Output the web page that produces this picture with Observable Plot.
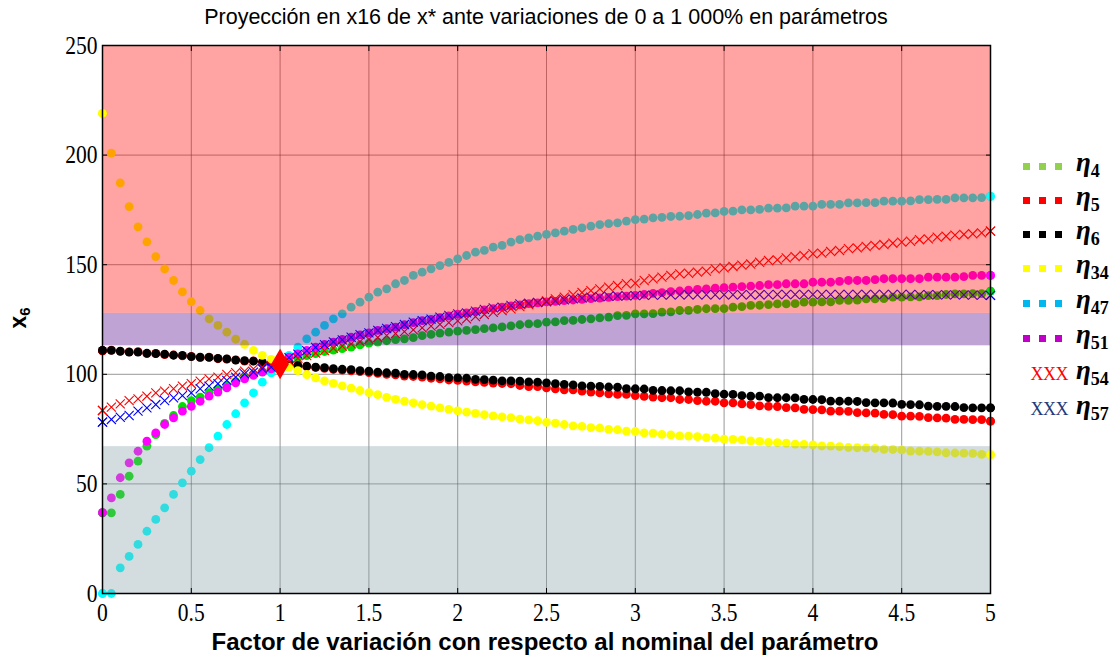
<!DOCTYPE html>
<html><head><meta charset="utf-8">
<script src="https://cdn.jsdelivr.net/npm/d3@7"></script>
<script src="https://cdn.jsdelivr.net/npm/@observablehq/plot@0.6"></script>
<style>
body{margin:0;background:#fff;}
#wrap{position:relative;width:1120px;height:658px;overflow:hidden;font-family:"Liberation Sans",Arial,sans-serif;color:#000;}
#title{position:absolute;left:0;top:5px;width:1092px;text-align:center;font-size:21.5px;line-height:24px;}
#chart{position:absolute;left:0;top:30px;}
#xlabel{position:absolute;left:0;width:1090px;top:629px;text-align:center;font-weight:bold;font-size:24px;line-height:26px;}
#ylabel{position:absolute;left:19px;top:318px;transform:translate(-50%,-50%) rotate(-90deg);font-weight:bold;font-size:23px;white-space:nowrap;}
#ylabel sub{font-size:15px;vertical-align:-4px;}
.lg{position:absolute;left:1018px;height:32px;display:flex;align-items:center;transform:translateY(-50%);}
.mk{width:58px;display:flex;align-items:center;justify-content:flex-end;gap:9px;padding-right:14px;box-sizing:border-box;}
.sq{width:7px;height:7px;display:inline-block;}
.xx{font-family:"Liberation Serif",serif;font-size:18px;letter-spacing:-0.5px;}
.eta{font-family:"Liberation Serif",serif;font-weight:bold;font-style:italic;font-size:27px;line-height:30px;}
.eta sub{font-style:normal;font-size:18px;vertical-align:-6px;}
</style></head>
<body><div id="wrap">
<div id="title">Proyección en x16 de x* ante variaciones de 0 a 1 000% en parámetros</div>
<div id="chart"></div>
<div id="ylabel">x<sub>6</sub></div>
<div id="xlabel">Factor de variación con respecto al nominal del parámetro</div>
<div id="legend"></div>
</div>
<script>
// Factor de variación (x)
const factor = [0,0.05,0.1,0.15,0.2,0.25,0.3,0.35,0.4,0.45,0.5,0.55,0.6,0.65,0.7,0.75,0.8,0.85,0.9,0.95,
1,1.05,1.1,1.15,1.2,1.25,1.3,1.35,1.4,1.45,1.5,1.55,1.6,1.65,1.7,1.75,1.8,1.85,1.9,1.95,
2,2.05,2.1,2.15,2.2,2.25,2.3,2.35,2.4,2.45,2.5,2.55,2.6,2.65,2.7,2.75,2.8,2.85,2.9,2.95,
3,3.05,3.1,3.15,3.2,3.25,3.3,3.35,3.4,3.45,3.5,3.55,3.6,3.65,3.7,3.75,3.8,3.85,3.9,3.95,
4,4.05,4.1,4.15,4.2,4.25,4.3,4.35,4.4,4.45,4.5,4.55,4.6,4.65,4.7,4.75,4.8,4.85,4.9,4.95,5];

const eta4 = [36.8,36.8,45.2,53.5,60.4,67.2,72.5,77.6,81.2,85.3,
88.0,89.6,91.6,93.2,95.0,96.7,98.4,99.9,101.2,102.7,
104.7,106.2,107.4,108.5,109.4,110.4,111.0,111.7,112.4,113.4,
114.2,114.7,115.3,115.8,116.2,116.7,117.6,118.2,118.8,119.2,
119.7,120.0,120.4,120.8,121.2,121.6,122.1,122.6,123.0,123.1,
123.8,123.9,124.5,124.6,125.0,125.3,125.7,126.1,126.8,126.9,
127.6,127.6,127.7,128.4,128.5,129.1,129.2,129.6,129.9,130.0,
130.0,130.6,130.9,131.4,131.5,131.8,132.1,132.1,132.2,132.9,
132.9,133.0,133.0,133.7,133.7,133.8,134.4,134.4,134.5,135.2,
135.2,135.3,135.3,135.9,135.9,136.4,136.7,136.7,136.8,136.8,137.9];

const eta5 = [110.7,111.0,110.4,110.2,110.3,109.4,109.5,109.0,108.8,108.4,
108.2,107.6,107.8,107.1,106.9,106.6,106.0,106.1,105.3,105.0,
104.7,104.3,103.9,103.5,103.1,102.7,102.2,101.9,101.6,101.2,
100.8,100.4,100.0,99.7,99.2,99.0,98.7,98.2,97.9,97.4,
97.2,96.9,96.5,96.3,96.0,95.8,95.7,94.9,94.4,94.4,
93.8,93.4,92.9,92.9,92.3,91.9,91.5,91.1,90.8,90.8,
90.3,89.9,89.6,89.3,89.3,88.5,88.5,88.0,87.7,87.7,
87.0,87.0,86.5,86.2,85.6,85.4,85.3,84.8,84.7,84.0,
83.9,83.8,83.2,83.2,83.1,82.5,82.4,82.3,81.7,81.6,
80.9,80.9,80.8,80.2,80.1,80.0,79.4,79.4,79.3,79.3,78.6];

const eta6 = [110.9,110.9,110.6,110.1,110.1,109.6,109.4,109.2,108.7,108.6,
108.1,107.8,107.7,107.3,107.0,106.5,106.2,106.0,105.5,105.1,
104.7,104.4,104.0,103.7,103.3,103.0,102.6,102.3,102.1,101.7,
101.4,101.0,100.7,100.5,100.0,99.9,99.7,99.2,99.0,98.5,
98.4,98.2,97.7,97.6,97.3,97.0,97.0,96.9,96.5,96.4,
96.1,95.7,95.4,95.2,94.7,94.6,94.5,94.2,94.1,93.5,
93.4,93.3,92.7,92.6,92.5,92.5,92.0,91.9,91.8,91.2,
90.9,90.8,90.3,90.0,90.0,89.4,89.3,89.3,89.2,88.6,
88.5,88.4,87.8,87.7,87.7,87.6,87.1,87.0,87.0,86.9,
86.3,86.2,86.1,85.5,85.4,85.4,85.3,84.8,84.7,84.7,84.7];

const eta34 = [219.0,200.9,187.3,176.5,167.3,160.4,153.7,148.1,142.8,137.6,
133.1,129.1,125.3,122.3,119.2,116.0,113.7,110.9,108.6,106.8,
104.7,103.3,101.7,99.9,98.4,97.0,95.9,94.7,93.7,92.6,
91.6,90.7,89.5,88.6,87.8,87.0,86.2,85.5,84.7,84.0,
83.3,82.7,82.2,81.6,81.0,80.6,80.2,79.5,79.2,78.8,
78.1,77.7,77.1,76.5,76.2,75.7,75.5,74.9,74.7,74.1,
73.9,73.3,73.2,72.6,72.4,71.9,71.8,71.6,71.1,70.9,
70.4,70.3,70.1,69.6,69.4,68.9,68.8,68.6,68.1,68.0,
67.8,67.3,67.2,67.0,66.6,66.5,66.4,66.2,65.8,65.7,
65.5,65.0,64.9,64.8,64.6,64.2,64.1,64.0,63.9,63.5,63.4];

const eta47 = [0,0,11.7,16.9,22.4,28.4,33.8,39.1,45.2,50.5,
55.8,61.1,66.5,71.8,77.1,82.0,87.0,91.5,96.4,100.7,
104.7,108.6,112.4,116.2,119.2,122.3,125.3,127.6,130.6,132.9,
135.2,137.5,139.0,141.3,142.8,145.1,146.6,148.1,149.6,151.1,
152.7,154.2,155.7,156.5,158.0,158.8,160.3,161.4,162.2,163.0,
163.8,164.5,165.3,166.1,166.8,167.6,168.3,168.7,169.1,169.9,
170.6,170.8,171.4,171.6,172.0,172.1,172.4,172.9,173.5,173.6,
174.3,174.4,175.0,175.0,175.2,175.8,175.8,175.9,176.7,176.7,
176.7,177.5,177.5,177.5,178.2,178.2,178.3,178.3,179.0,179.0,
179.0,179.1,179.7,179.7,179.8,179.8,180.5,180.5,180.5,180.6,181.2];

const eta51 = [36.9,43.6,52.8,59.6,64.9,69.5,73.3,77.1,80.1,83.2,
85.4,87.7,90.0,91.9,93.8,96.1,97.9,99.5,101.0,102.5,
104.7,107.8,109.3,110.9,112.4,113.6,114.7,115.9,116.9,118.0,
118.9,120.0,120.8,121.5,122.6,123.6,124.5,125.1,125.8,126.6,
127.4,128.0,128.7,129.4,130.0,130.6,131.2,131.7,132.2,132.6,
133.0,133.3,133.6,133.9,134.2,134.5,134.8,135.1,135.4,135.7,
136.0,136.5,136.9,137.3,137.7,138.0,138.4,138.7,139.0,139.3,
139.5,139.8,140.0,140.2,140.5,140.9,140.9,141.3,141.3,141.3,
142.0,142.0,142.0,142.4,142.8,142.8,142.8,143.2,143.6,143.6,
143.6,143.6,143.6,144.3,144.3,144.3,144.3,144.6,145.1,145.1,145.1];

const eta54 = [83.5,85.0,86.5,88.0,88.8,90.0,91.5,92.3,93.4,94.6,
95.7,96.9,97.9,98.7,99.9,100.7,101.4,102.5,103.3,104.0,
104.7,106.0,107.3,108.5,109.7,110.8,111.9,112.9,113.9,114.9,
115.9,116.8,117.7,118.6,119.5,120.3,121.2,122.0,122.8,123.6,
124.4,125.3,126.3,127.3,128.3,129.1,129.9,130.9,131.8,132.7,
133.5,134.4,135.2,136.3,137.3,138.2,139.0,139.8,140.5,141.3,
141.6,142.8,143.6,144.3,145.1,145.8,146.1,146.6,147.1,148.1,
148.6,149.2,149.8,150.3,151.1,151.9,152.2,153.1,153.7,154.2,
155.0,155.3,156.0,156.5,157.3,157.7,158.3,158.8,159.2,159.8,
160.3,160.7,161.4,161.8,162.6,163.0,163.5,163.8,164.1,164.5,165.3];

const eta57 = [78.2,79.4,80.4,81.2,83.2,84.7,86.2,88.0,89.3,90.3,
91.5,93.4,94.6,95.7,97.2,98.7,100.2,101.0,102.5,103.3,
104.7,107.6,109.2,110.8,112.3,113.5,114.8,115.7,116.9,118.1,
118.9,120.0,120.9,121.7,122.7,123.8,124.5,125.2,126.1,126.9,
127.6,128.0,128.8,129.6,130.3,130.6,131.4,132.1,132.4,132.8,
133.1,133.5,134.0,134.4,134.8,135.2,135.4,135.6,135.7,135.8,
135.9,136.0,136.1,136.1,136.2,136.2,136.3,136.3,136.3,136.3,
136.3,136.3,136.3,136.3,136.3,136.3,136.4,136.4,136.4,136.4,
136.4,136.4,136.4,136.4,136.4,136.4,136.4,136.4,136.4,136.4,
136.4,136.4,136.3,136.3,136.3,136.2,136.2,136.2,136.1,136.1,136.0];

const seriesNames = ["4","5","6","34","47","51","54","57"];
const seriesValues = [eta4, eta5, eta6, eta34, eta47, eta51, eta54, eta57];
const seriesColors = ["#00e000","#ff0000","#000000","#ffff00","#00ffff","#ff00ff","#ff0000","#0000ff"];
const seriesMarkers = ["dot","dot","dot","dot","dot","dot","times","times"];
const legendColors = ["#92d050","#ff0000","#000000","#ffff00","#00b8f0","#c000c8","#ff0000","#1f3a7a"];

// Punto nominal
const nominal = [{x: 1, y: 104.7}];

// Franjas de referencia
const bandLow = [0, 113, 127.8];
const bandHigh = [67, 127.8, 250];
const bandColors = ["#859ea6", "#4e0088", "#ff0000"];

const xTicks = [0,0.5,1,1.5,2,2.5,3,3.5,4,4.5,5];
const yTicks = [0,50,100,150,200,250];

const rows = [];
seriesValues.forEach((vals, k) => vals.forEach((v, i) => rows.push({s: k, x: factor[i], y: v})));
const bands = bandLow.map((lo, i) => ({lo, hi: bandHigh[i], c: bandColors[i]}));

function seriesMarks(data) {
  return seriesNames.map((n, k) => {
    const d = data.filter(r => r.s === k);
    return seriesMarkers[k] === "dot"
      ? Plot.dot(d, {x: "x", y: "y", r: 4.4, fill: seriesColors[k], stroke: "none"})
      : Plot.dot(d, {x: "x", y: "y", r: 4.2, symbol: "times", stroke: seriesColors[k], strokeWidth: 1.1, fill: "none"});
  });
}

const tickFont = {fontFamily: "Liberation Serif, serif", fontSize: 25};

const chart = Plot.plot({
  width: 1000,
  height: 628,
  marginLeft: 102,
  marginRight: 10,
  marginTop: 15,
  marginBottom: 65,
  style: {background: "transparent", overflow: "visible"},
  x: {domain: [0, 5]},
  y: {domain: [0, 250]},
  marks: [
    Plot.gridX(xTicks, {stroke: "#333", strokeOpacity: 0.5, strokeWidth: 1}),
    Plot.gridY(yTicks, {stroke: "#333", strokeOpacity: 0.5, strokeWidth: 1}),
    ...seriesMarks(rows),
    Plot.rect(bands, {y1: "lo", y2: "hi", fill: "c", fillOpacity: 0.36}),
    ...seriesMarks(rows.filter(r => r.x === 0 || r.x === 5)),
    Plot.dot(nominal, {x: "x", y: "y", symbol: "diamond", r: 8.4, fill: "#ff0000", stroke: "#ff0000"}),
    Plot.axisX(xTicks, {anchor: "bottom", tickSize: -5, tickPadding: 15, label: null, tickFormat: d => String(d), ...tickFont}),
    Plot.axisX(xTicks, {anchor: "top", tickSize: -5, label: null, tickFormat: () => ""}),
    Plot.axisY(yTicks, {anchor: "left", tickSize: -5, tickPadding: 10, label: null, ...tickFont}),
    Plot.axisY(yTicks, {anchor: "right", tickSize: -5, label: null, tickFormat: () => ""}),
    Plot.frame({stroke: "#000", strokeWidth: 1.5})
  ]
});
document.getElementById("chart").appendChild(chart);

// condensar ligeramente las etiquetas de las marcas (como en el original)
chart.querySelectorAll('g[aria-label="x-axis tick label"] text, g[aria-label="y-axis tick label"] text').forEach(t => {
  const w = t.getComputedTextLength();
  if (w > 0) {
    t.setAttribute("textLength", (w * 0.86).toFixed(1));
    t.setAttribute("lengthAdjust", "spacingAndGlyphs");
  }
});

// Leyenda
const legendY = [166, 200, 234, 268, 303, 338, 374, 409];
const lg = document.getElementById("legend");
seriesNames.forEach((n, k) => {
  const row = document.createElement("div");
  row.className = "lg";
  row.style.top = legendY[k] + "px";
  const mk = document.createElement("span");
  mk.className = "mk";
  if (seriesMarkers[k] === "dot") {
    for (let j = 0; j < 3; j++) {
      const sq = document.createElement("span");
      sq.className = "sq";
      sq.style.background = legendColors[k];
      mk.appendChild(sq);
    }
  } else {
    const t = document.createElement("span");
    t.className = "xx";
    t.style.color = legendColors[k];
    t.textContent = "XXX";
    mk.style.gap = "0";
    mk.style.paddingRight = "8px";
    mk.appendChild(t);
  }
  const eta = document.createElement("span");
  eta.className = "eta";
  eta.innerHTML = "η<sub>" + n + "</sub>";
  row.appendChild(mk);
  row.appendChild(eta);
  lg.appendChild(row);
});
</script>
</body></html>
